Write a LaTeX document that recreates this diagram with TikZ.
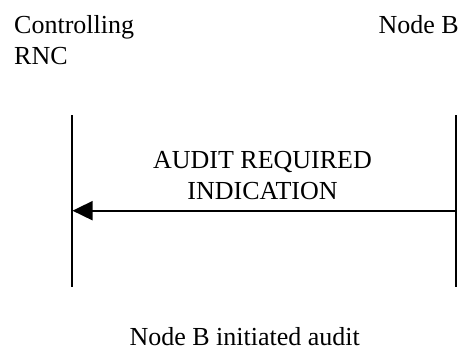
\documentclass[tikz,border=0pt]{standalone}
\usepackage{fontspec}
\setmainfont{Liberation Serif}
\usetikzlibrary{arrows.meta}
\tikzset{
  lbl/.style={inner sep=0pt, font=\fontsize{26}{31}\selectfont},
  life/.style={line width=1.8pt},
  msg/.style={line width=1.8pt, -{Triangle[length=20pt,width=19pt]}}
}
\begin{document}
\begin{tikzpicture}[x=1pt,y=-1pt]
\useasboundingbox (0,0) rectangle (462,350);
\node[lbl, anchor=base west] (ctl) at (14,33.3) {Controlling};
\node[lbl, anchor=base west] (rnc) at (14,64.3) {RNC};
\node[lbl, anchor=base east] (nb) at (459,33.3) {Node B};
\coordinate (lt) at (71.7,115);
\coordinate (lb) at (71.7,287);
\coordinate (rt) at (456,115);
\coordinate (rb) at (456,287);
\draw[life] (lt) -- (lb);
\draw[life] (rt) -- (rb);
\coordinate (ms) at (456,210.7);
\coordinate (me) at (72.5,210.7);
\draw[msg] (ms) -- (me);
\node[lbl, anchor=base] (m1) at (262.5,168.3) {AUDIT REQUIRED};
\node[lbl, anchor=base] (m2) at (262.5,199.3) {INDICATION};
\node[lbl, anchor=base] (cap) at (244.7,345.5) {Node B initiated audit};
\end{tikzpicture}
\end{document}
